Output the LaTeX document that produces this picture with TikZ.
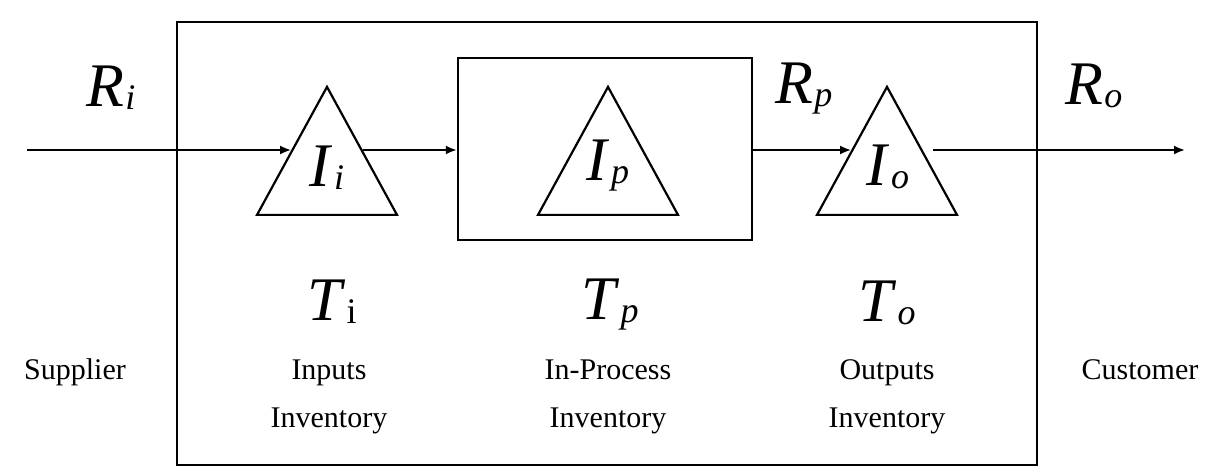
\documentclass[tikz,border=0pt]{standalone}
\usepackage{fontspec}
\setmainfont{Liberation Serif}
\usetikzlibrary{positioning,arrows.meta,shapes.geometric}
\newcommand{\flowvar}[2]{\textit{#1}\kern0.5pt\raisebox{-1.5pt}{\fontsize{18}{18}\selectfont\textit{#2}}}

\begin{document}
\begin{tikzpicture}[x=0.5pt,y=-0.5pt,
 frame/.style={draw,line width=1.2pt,inner sep=0pt},
 tri/.style={draw,line width=1.1pt,isosceles triangle,isosceles triangle stretches,
 shape border rotate=90,minimum width=70pt,minimum height=64pt,inner sep=0pt,anchor=apex},
 sym/.style={font=\fontsize{31}{31}\selectfont,inner sep=0pt},
 txt/.style={font=\fontsize{15}{24}\selectfont,align=center,inner sep=0pt},
 arr/.style={-{Latex[length=5.5pt,width=4.5pt]},line width=1pt}]
\useasboundingbox (0,0) rectangle (1219,468);
\node[frame,minimum width=430pt,minimum height=221.5pt] (plant) at (607,243.5) {};
\node[frame,minimum width=147pt,minimum height=91pt] (proc) at (605,149) {};
\node[tri] (Ii) at (327,84) {};
\node[tri] (Ip) at (608,84) {};
\node[tri] (Io) at (887,84) {};
% stock symbols
\node[sym] (Ii-lab) at (327,168) {\flowvar{I}{i}};
\node[sym] (Ip-lab) at (608,166) {\flowvar{I}{p}};
\node[sym] (Io-lab) at (888,167) {\flowvar{I}{o}};
% flow rates
\node[sym] (Ri) at (111,88) {\flowvar{R}{i}};
\node[sym] (Rp) at (804,89) {\flowvar{R}{p}};
\node[sym] (Ro) at (1094,86) {\flowvar{R}{o}};
% throughput times
\node[sym] (Ti) at (332,302) {\flowvar{T}{\textup{i}}};
\node[sym] (Tp) at (610,305) {\flowvar{T}{p}};
\node[sym] (To) at (887,303) {\flowvar{T}{o}};
\node[txt] (inputs) at (329,397) {Inputs\\Inventory};
\node[txt] (inproc) at (608,397) {In-Process\\Inventory};
\node[txt] (outputs) at (887,397) {Outputs\\Inventory};
\node[txt,anchor=base] (supplier) at (75,379) {Supplier};
\node[txt,anchor=base] (customer) at (1140,379) {Customer};
\coordinate (src) at (27,0);
\coordinate (sink) at (1185,0);
\draw[arr] (src |- Ii.left side) -- (Ii.left side);
\draw[arr] (Ii.right side) -- (Ii.right side -| proc.west);
\draw[arr] (Io.left side -| proc.east) -- (Io.left side);
\draw[arr] ([xshift=5pt]Io.right side) -- (sink |- Io.right side);
\end{tikzpicture}
\end{document}
